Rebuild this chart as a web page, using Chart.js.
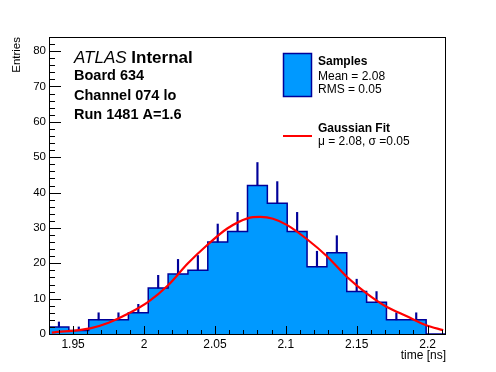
<!DOCTYPE html>
<html>
<head>
<meta charset="utf-8">
<script src="https://cdn.jsdelivr.net/npm/chart.js@4"></script>
<style>
  html, body { margin: 0; padding: 0; background: #fff; }
  #wrap { width: 496px; height: 372px; }
</style>
</head>
<body>
<div id="wrap"><canvas id="timeChart" width="496" height="372"></canvas></div>
<script>
// histogram of the fitted time, 20 bins (ns)
const binEdges = [1.933, 1.947, 1.961, 1.975, 1.989, 2.003, 2.017, 2.031, 2.045, 2.059, 2.073,
                  2.087, 2.101, 2.115, 2.129, 2.143, 2.157, 2.171, 2.185, 2.199, 2.213];
const entries = [2, 1, 4, 4, 6, 13, 17, 18, 26, 29, 42, 37, 29, 19, 23, 12, 9, 4, 4, 0];
const errors  = [1.4, 1.0, 2.0, 2.0, 2.4, 3.6, 4.1, 4.2, 5.1, 5.4, 6.5, 6.1, 5.4, 4.4, 4.8, 3.5, 3.0, 2.0, 2.0, 0];

// gaussian fit curve
const fitX = [1.935, 1.962, 1.975, 1.989, 2.003, 2.017, 2.031, 2.045, 2.059, 2.073, 2.082, 2.091,
              2.101, 2.115, 2.129, 2.143, 2.157, 2.171, 2.185, 2.199, 2.211];
const fitY = [0.4, 1.6, 3.2, 5.8, 9.1, 13.8, 20.0, 25.3, 29.9, 32.7, 33.1, 32.6,
              30.8, 26.8, 22.0, 16.2, 11.5, 7.7, 5.1, 2.5, 1.1];

const xTicks = [1.95, 2, 2.05, 2.1, 2.15, 2.2];
const yTicks = [0, 10, 20, 30, 40, 50, 60, 70, 80];

const FONT = '"Liberation Sans", Arial, Helvetica, sans-serif';
const fillBlue = '#0099ff';
const darkBlue = '#000099';

// outline of the histogram as a stepped line
const histPoints = [{ x: binEdges[0], y: 0 }];
entries.forEach((v, i) => histPoints.push({ x: binEdges[i], y: v }));
histPoints.push({ x: binEdges[binEdges.length - 1], y: entries[entries.length - 1] });
histPoints.push({ x: binEdges[binEdges.length - 1], y: 0 });

// error bars only above the bin content
const errPoints = [];
entries.forEach((v, i) => {
    if (v > 0) {
        errPoints.push({ x: (binEdges[i] + binEdges[i + 1]) / 2, y: [v, v + errors[i]] });
    }
});

const fitPoints = fitX.map((x, i) => ({ x: x, y: fitY[i] }));

// frame, inner ticks, label texts and the legend box
const rootStyle = {
    id: 'rootStyle',
    afterDatasetsDraw(chart) {
        const ctx = chart.ctx;
        const a = chart.chartArea;
        const xs = chart.scales.x, ys = chart.scales.y;
        ctx.save();
        ctx.strokeStyle = '#000';
        ctx.lineWidth = 1;
        ctx.beginPath();
        // x ticks
        for (let k = 194; k <= 221; k++) {
            const v = k / 100;
            const px = Math.round(xs.getPixelForValue(v)) + 0.5;
            const major = k % 5 === 0;
            ctx.moveTo(px, a.bottom);
            ctx.lineTo(px, a.bottom - (major ? 8 : 4));
        }
        // y ticks
        for (let v = 0; v <= 84; v += 2) {
            const py = Math.round(ys.getPixelForValue(v)) + 0.5;
            const major = v % 10 === 0;
            ctx.moveTo(a.left, py);
            ctx.lineTo(a.left + (major ? 12 : 6), py);
        }
        ctx.stroke();
        ctx.strokeRect(a.left + 0.5, a.top + 0.5, a.right - a.left - 1, a.bottom - a.top);

        // ATLAS label
        ctx.fillStyle = '#000';
        ctx.textBaseline = 'alphabetic';
        ctx.textAlign = 'left';
        ctx.font = 'italic 17px ' + FONT;
        ctx.fillText('ATLAS', 74, 63);
        const w = ctx.measureText('ATLAS ').width;
        ctx.font = 'bold 17px ' + FONT;
        ctx.fillText('Internal', 74 + w, 63);
        ctx.font = 'bold 14.5px ' + FONT;
        ctx.fillText('Board 634', 74, 80);
        ctx.fillText('Channel 074 lo', 74, 100);
        ctx.fillText('Run 1481 A=1.6', 74, 119);

        // legend
        ctx.fillStyle = fillBlue;
        ctx.fillRect(283, 53, 29, 44);
        ctx.strokeStyle = darkBlue;
        ctx.lineWidth = 1.5;
        ctx.strokeRect(283.5, 53.5, 28, 43);
        ctx.strokeStyle = '#ff0000';
        ctx.lineWidth = 2;
        ctx.beginPath();
        ctx.moveTo(283, 136);
        ctx.lineTo(312, 136);
        ctx.stroke();

        ctx.fillStyle = '#000';
        ctx.font = 'bold 12px ' + FONT;
        ctx.fillText('Samples', 318, 65);
        ctx.fillText('Gaussian Fit', 318, 132);
        ctx.font = '12px ' + FONT;
        ctx.fillText('Mean = 2.08', 318, 80);
        ctx.fillText('RMS = 0.05', 318, 93);
        ctx.fillText('\u03bc = 2.08, \u03c3 =0.05', 318, 145);
        ctx.restore();
    }
};

const ctx = document.getElementById('timeChart').getContext('2d');
new Chart(ctx, {
    type: 'line',
    data: {
        datasets: [{
            label: 'Gaussian Fit',
            data: fitPoints,
            borderColor: '#ff0000',
            borderWidth: 2.2,
            pointRadius: 0,
            cubicInterpolationMode: 'monotone',
            fill: false,
            order: 0
        }, {
            type: 'bar',
            label: 'errors',
            data: errPoints,
            backgroundColor: darkBlue,
            borderWidth: 0,
            barThickness: 1.5,
            order: 1
        }, {
            label: 'Samples',
            data: histPoints,
            stepped: 'before',
            borderColor: darkBlue,
            borderWidth: 1.5,
            backgroundColor: fillBlue,
            pointRadius: 0,
            fill: 'origin',
            order: 2
        }]
    },
    options: {
        responsive: false,
        animation: false,
        devicePixelRatio: 1,
        layout: { padding: { left: 0, top: 37, right: 50, bottom: 0 } },
        plugins: {
            legend: { display: false },
            tooltip: { enabled: false }
        },
        scales: {
            x: {
                type: 'linear',
                min: binEdges[0],
                max: binEdges[binEdges.length - 1],
                offset: false,
                grid: { display: false, drawTicks: false },
                border: { display: false },
                afterBuildTicks: s => { s.ticks = xTicks.map(v => ({ value: v })); },
                afterFit: s => { s.height = 38; },
                ticks: {
                    padding: 3,
                    color: '#000',
                    font: { family: FONT, size: 12 },
                    callback: v => String(v)
                },
                title: {
                    display: true,
                    text: 'time [ns]',
                    align: 'end',
                    color: '#000',
                    font: { family: FONT, size: 12 },
                    padding: { top: 9, bottom: 9 }
                }
            },
            y: {
                min: 0,
                max: 84,
                grid: { display: false, drawTicks: false },
                border: { display: false },
                afterBuildTicks: s => { s.ticks = yTicks.map(v => ({ value: v })); },
                afterFit: s => { s.width = 49; },
                ticks: {
                    padding: 3,
                    color: '#000',
                    font: { family: FONT, size: 11.5 }
                },
                title: {
                    display: true,
                    text: 'Entries',
                    align: 'end',
                    color: '#000',
                    font: { family: FONT, size: 11.5 },
                    padding: { top: 10, bottom: 10 }
                }
            }
        }
    },
    plugins: [rootStyle]
});
</script>
</body>
</html>
